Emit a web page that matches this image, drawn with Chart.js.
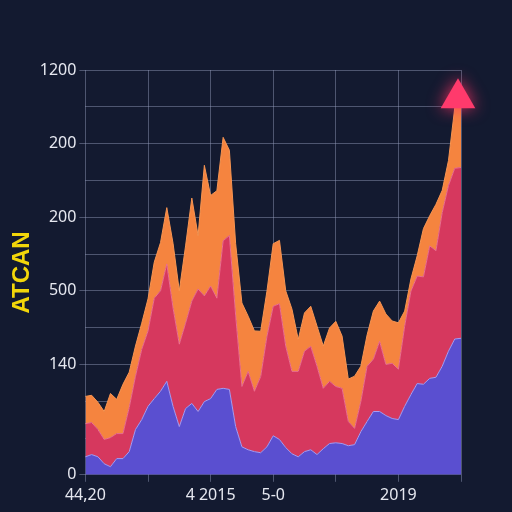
<!DOCTYPE html>
<html>
<head>
<meta charset="utf-8">
<script src="https://cdn.jsdelivr.net/npm/chart.js@4.4.1/dist/chart.umd.min.js"></script>
<style>
  html, body { margin: 0; padding: 0; background: #131a30; }
</style>
</head>
<body>
<canvas id="chart" width="512" height="512"></canvas>
<script>
// donnees (61 points, grille verticale tous les 10)
const categories = Array.from({ length: 61 }, (_, i) => i);
const xTickLabels = ['44,20', '', '4 2015', '5-0', '', '2019', ''];
const yTickLabels = ['0', '', '', '140', '', '500', '', '200', '', '200', '', '1200'];

const blueSeries = [
  49, 55, 49, 30, 22, 44, 44, 63, 123, 150,
  186, 207, 227, 254, 186, 131, 180, 194, 172, 199,
  207, 232, 235, 232, 131, 76, 68, 63, 60, 76,
  106, 96, 74, 57, 49, 63, 68, 55, 71, 85,
  87, 85, 79, 82, 117, 145, 172, 172, 161, 153,
  150, 186, 218, 248, 246, 262, 265, 295, 336, 369,
  371
];
const redSeries = [
  90, 87, 74, 66, 79, 68, 68, 120, 145, 191,
  205, 273, 273, 319, 268, 224, 232, 278, 333, 287,
  306, 248, 401, 418, 303, 164, 213, 164, 207, 300,
  352, 369, 276, 224, 232, 273, 281, 240, 164, 169,
  153, 150, 66, 44, 82, 150, 142, 191, 139, 150,
  137, 218, 281, 292, 292, 360, 344, 418, 450, 464,
  464
];
const orangeSeries = [
  74, 74, 74, 76, 120, 93, 134, 96, 82, 71,
  87, 98, 131, 153, 175, 145, 210, 280, 145, 355,
  246, 292, 281, 232, 194, 227, 150, 164, 123, 123,
  170, 172, 150, 169, 87, 104, 109, 109, 115, 145,
  177, 142, 115, 142, 96, 85, 131, 109, 137, 115,
  126, 41, 33, 55, 131, 82, 126, 60, 68, 164,
  188
];

const gridColor = 'rgba(150, 160, 190, 0.45)';

// fleche rouge au bout de la serie orange
const arrowTip = {
  id: 'arrowTip',
  afterDatasetsDraw(chart) {
    const meta = chart.getDatasetMeta(2);
    const pt = meta.data[meta.data.length - 1];
    const ctx = chart.ctx;
    ctx.save();
    ctx.shadowColor = 'rgba(255, 50, 100, 0.9)';
    ctx.shadowBlur = 16;
    ctx.fillStyle = '#ff3a6c';
    Chart.helpers.drawPoint(ctx, { pointStyle: 'triangle', radius: 20, rotation: 0, borderWidth: 0 }, pt.x - 3, pt.y);
    ctx.restore();
  }
};

const ctx = document.getElementById('chart').getContext('2d');
new Chart(ctx, {
  type: 'line',
  data: {
    labels: categories,
    datasets: [
      {
        label: 'Bleu',
        data: blueSeries,
        backgroundColor: '#5a4fd0',
        borderColor: '#a99cf2',
        borderWidth: 1,
        fill: 'origin'
      },
      {
        label: 'Rouge',
        data: redSeries,
        backgroundColor: '#d6385e',
        borderColor: '#ee6f90',
        borderWidth: 1,
        fill: '-1'
      },
      {
        label: 'Orange',
        data: orangeSeries,
        backgroundColor: '#f5843f',
        borderColor: '#f79552',
        borderWidth: 1,
        fill: '-1'
      }
    ]
  },
  options: {
    responsive: false,
    animation: false,
    elements: {
      line: { tension: 0 },
      point: { radius: 0, hoverRadius: 0 }
    },
    layout: { padding: { left: 4, top: 70, right: 51, bottom: 3 } },
    plugins: {
      legend: { display: false },
      tooltip: { enabled: false }
    },
    scales: {
      x: {
        offset: false,
        grid: {
          color: c => (c.index % 10 === 0 ? gridColor : 'transparent'),
          tickLength: 7
        },
        border: { display: false },
        ticks: {
          autoSkip: false,
          maxRotation: 0,
          padding: 4,
          color: '#e6e8f0',
          font: { family: 'Noto Sans', size: 16 },
          callback: (v, i) => (i % 10 === 0 ? xTickLabels[i / 10] : '')
        }
      },
      y: {
        stacked: true,
        min: 0,
        max: 1100,
        grid: {
          color: gridColor,
          tickColor: c => (yTickLabels[Math.round(c.tick.value / 100)] ? gridColor : 'transparent'),
          tickLength: 6
        },
        border: { display: false },
        ticks: {
          stepSize: 100,
          padding: 3,
          color: '#e6e8f0',
          font: { family: 'Noto Sans', size: 16 },
          callback: v => yTickLabels[Math.round(v / 100)]
        },
        title: {
          display: true,
          text: 'ATCAN',
          color: '#f2d60a',
          font: { family: 'Liberation Sans', size: 24, weight: 'bold' },
          padding: { top: 4, bottom: 0 }
        }
      }
    }
  },
  plugins: [arrowTip]
});
</script>
</body>
</html>
